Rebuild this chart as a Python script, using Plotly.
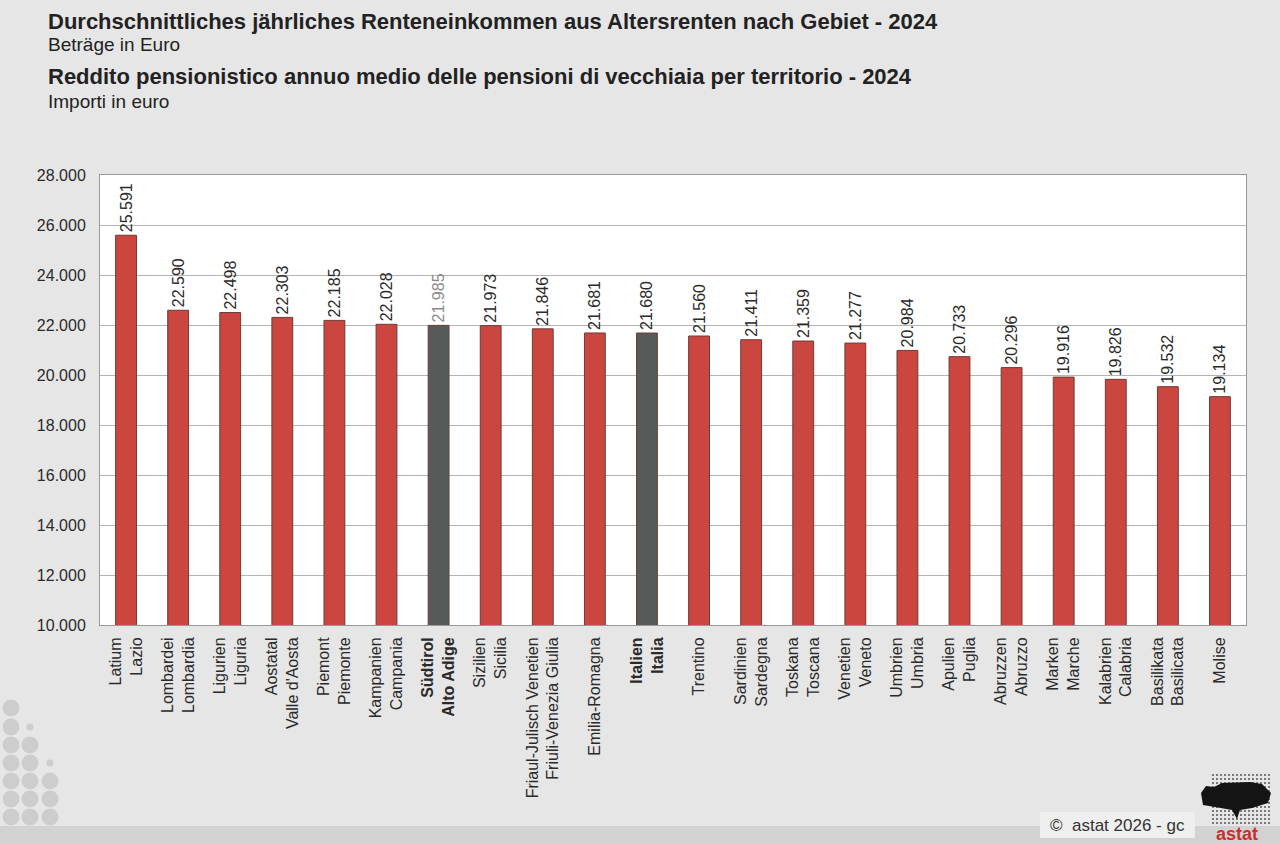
import plotly.graph_objects as go

# Data (pension income 2024, euro)
regions = ["Latium|Lazio", "Lombardei|Lombardia", "Ligurien|Liguria", "Aostatal|Valle d'Aosta",
           "Piemont|Piemonte", "Kampanien|Campania", "Südtirol|Alto Adige", "Sizilien|Sicilia",
           "Friaul-Julisch Venetien|Friuli-Venezia Giulia", "Emilia-Romagna", "Italien|Italia",
           "Trentino", "Sardinien|Sardegna", "Toskana|Toscana", "Venetien|Veneto", "Umbrien|Umbria",
           "Apulien|Puglia", "Abruzzen|Abruzzo", "Marken|Marche", "Kalabrien|Calabria",
           "Basilikata|Basilicata", "Molise"]
values = [25591, 22590, 22498, 22303, 22185, 22028, 21985, 21973, 21846, 21681, 21680,
          21560, 21411, 21359, 21277, 20984, 20733, 20296, 19916, 19826, 19532, 19134]
highlight = ["Südtirol|Alto Adige", "Italien|Italia"]
y_ticks = [10000, 12000, 14000, 16000, 18000, 20000, 22000, 24000, 26000, 28000]

RED = "#cc4640"
DARK = "#555b59"

# plot area in pixels (for placing the decorations)
L, R, T, B = 100, 1246, 175, 625


def px(x):
    return (x - L) / (R - L)


def py(y):
    return (B - y) / (B - T)


bar_colors = [DARK if r in highlight else RED for r in regions]
text_colors = ["#8a8a8a" if r == "Südtirol|Alto Adige" else "#2a2a2a" for r in regions]
tick_text = []
for r in regions:
    lab = r.replace("|", "<br>")
    if r in highlight:
        lab = "<b>" + lab + "</b>"
    tick_text.append(lab)

fig = go.Figure(go.Bar(
    x=regions, y=values,
    marker=dict(color=bar_colors, line=dict(color="#6e3a37", width=1)),
    width=0.4,
    texttemplate="%{y:,.0f}", textposition="outside", textangle=-90,
    constraintext="none",
    textfont=dict(size=16, color=text_colors),
    cliponaxis=False,
))

fig.update_layout(
    width=1280, height=843,
    margin=dict(l=L, r=1280 - R, t=T, b=843 - B),
    paper_bgcolor="#e6e6e6", plot_bgcolor="white",
    separators=",.",
    font=dict(family="Liberation Sans, Arial, sans-serif", size=16, color="#2a2a2a"),
    showlegend=False,
)
fig.update_xaxes(tickvals=regions, ticktext=tick_text, tickangle=-90,
                 showline=True, linecolor="#999999", mirror=True, ticks="",
                 ticklabelstandoff=5, tickfont=dict(size=16, color="#2a2a2a"))
fig.update_yaxes(range=[10000, 28000], tickvals=y_ticks, tickformat=",.0f",
                 showgrid=True, gridcolor="#b4b4b4", showline=True, linecolor="#999999",
                 mirror=True, ticks="", zeroline=False, ticklabelstandoff=10,
                 tickfont=dict(size=16, color="#2a2a2a"))

# titles
titles = [("<b>Durchschnittliches jährliches Renteneinkommen aus Altersrenten nach Gebiet - 2024</b>", 22, 22),
          ("Beträge in Euro", 45, 19),
          ("<b>Reddito pensionistico annuo medio delle pensioni di vecchiaia per territorio - 2024</b>", 77, 22),
          ("Importi in euro", 102, 19)]
for txt, y, size in titles:
    fig.add_annotation(x=px(46), y=py(y), xref="paper", yref="paper", text=txt,
                       showarrow=False, xanchor="left", yanchor="middle",
                       font=dict(size=size, color="#222222"))

# bottom strip and copyright
fig.add_shape(type="rect", xref="paper", yref="paper", x0=px(0), x1=px(1280), y0=py(826), y1=py(843),
              fillcolor="#d2d2d2", line_width=0, layer="below")
fig.add_shape(type="rect", xref="paper", yref="paper", x0=px(1040), x1=px(1195), y0=py(812), y1=py(838),
              fillcolor="#efefef", line_width=0)
fig.add_annotation(x=px(1117), y=py(825), xref="paper", yref="paper", text="©  astat 2026 - gc",
                   showarrow=False, xanchor="center", yanchor="middle",
                   font=dict(size=17, color="#333333"))

# astat logo (rough): dot grid + dark blob + red word
for gx in range(1213, 1270, 4):
    for gy in range(775, 824, 4):
        fig.add_shape(type="circle", xref="paper", yref="paper",
                      x0=px(gx - 1), x1=px(gx + 1), y0=py(gy + 1), y1=py(gy - 1),
                      fillcolor="#555555", line_width=0)
blob = [(1201, 793), (1206, 786), (1214, 787), (1222, 783), (1250, 782), (1262, 784),
        (1271, 793), (1268, 803), (1252, 808), (1240, 810), (1237, 819), (1232, 810),
        (1215, 807), (1203, 805)]
path = "M " + " L ".join("%f %f" % (px(a), py(b)) for a, b in blob) + " Z"
fig.add_shape(type="path", xref="paper", yref="paper", path=path,
              fillcolor="#141414", line_width=0)
fig.add_annotation(x=px(1237), y=py(834), xref="paper", yref="paper", text="<b>astat</b>",
                   showarrow=False, xanchor="center", yanchor="middle",
                   font=dict(size=18, color="#c9302c"))

# decorative dots bottom-left
rows = [708, 727, 745, 763, 781, 799, 817]
cols = [11, 30, 50]
for ci, cx in enumerate(cols):
    start = [0, 2, 4][ci]
    for ri, cy in enumerate(rows):
        if ri >= start:
            r = 8.5
        elif ri == start - 1:
            r = 3.5
        else:
            continue
        fig.add_shape(type="circle", xref="paper", yref="paper",
                      x0=px(cx - r), x1=px(cx + r), y0=py(cy + r), y1=py(cy - r),
                      fillcolor="#cdcdcd", line_width=0, layer="below")

fig.write_html("out.html", config={"displayModeBar": False},
               post_script="document.body.style.margin='0';document.body.style.overflow='hidden';")
